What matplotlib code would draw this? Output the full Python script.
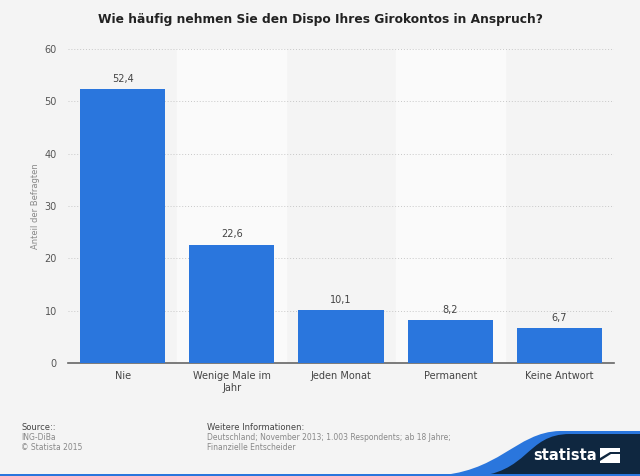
import numpy as np
import matplotlib
matplotlib.use("Agg")
import matplotlib.pyplot as plt
from matplotlib.patches import Polygon, Rectangle, PathPatch
from matplotlib.path import Path

categories = ["Nie", "Wenige Male im\nJahr", "Jeden Monat", "Permanent", "Keine Antwort"]
values = [52.4, 22.6, 10.1, 8.2, 6.7]
value_labels = ["52,4", "22,6", "10,1", "8,2", "6,7"]
yticks = [0, 10, 20, 30, 40, 50, 60]

bg = "#f4f4f4"
bar_col = "#2a76dd"
navy = "#0f2740"

fig = plt.figure(figsize=(6.4, 4.76), dpi=100)
fig.patch.set_facecolor(bg)

ax = fig.add_axes([68/640, 1-363/476, 546/640, 314/476])
ax.set_facecolor(bg)

x = np.arange(len(categories))
# alternating bands
for i in x:
    if i % 2 == 1:
        ax.axvspan(i-0.5, i+0.5, color="#fafafa", zorder=0)

ax.bar(x, values, width=0.78, color=bar_col, zorder=3)
for xi, v, lab in zip(x, values, value_labels):
    ax.text(xi, v+1.0, lab, ha="center", va="bottom", fontsize=7, color="#444444")

ax.set_xlim(-0.5, len(categories)-0.5)
ax.set_ylim(0, 60)
ax.set_yticks(yticks)
ax.yaxis.grid(True, linestyle=(0, (1, 2)), color="#c8c8c8", linewidth=0.7, zorder=1)
ax.set_axisbelow(True)
for s in ["top", "right", "left"]:
    ax.spines[s].set_visible(False)
ax.spines["bottom"].set_color("#666666")
ax.spines["bottom"].set_linewidth(1.2)
ax.tick_params(axis="y", length=0, labelsize=7, labelcolor="#555555", pad=8)
ax.tick_params(axis="x", length=0, labelsize=7, labelcolor="#444444", pad=6)
ax.set_xticks(x)
ax.set_xticklabels(categories, multialignment="center")
ax.set_ylabel("Anteil der Befragten", fontsize=6, color="#888888", labelpad=3)

fig.text(320/640, 1-20/476, "Wie häufig nehmen Sie den Dispo Ihres Girokontos in Anspruch?",
         ha="center", va="center", fontsize=8.8, fontweight="bold", color="#222222")

# footer
fig.text(21/640, 1-427/476, "Source::", fontsize=6, color="#444444", va="center")
fig.text(21/640, 1-437/476, "ING-DiBa", fontsize=5.5, color="#888888", va="center")
fig.text(21/640, 1-447/476, "© Statista 2015", fontsize=5.5, color="#888888", va="center")
fig.text(207/640, 1-427/476, "Weitere Informationen:", fontsize=6, color="#444444", va="center")
fig.text(207/640, 1-438/476, "Deutschland; November 2013; 1.003 Respondents; ab 18 Jahre;",
         fontsize=5.5, color="#888888", va="center")
fig.text(207/640, 1-448/476, "Finanzielle Entscheider", fontsize=5.5, color="#888888", va="center")


def fp(px, py):
    # pixel coords -> figure fraction
    return (px/640, 1-py/476)


def add_patch(p):
    p.set_transform(fig.transFigure)
    p.set_figure(fig)
    fig.patches.append(p)


codes = [Path.MOVETO, Path.CURVE4, Path.CURVE4, Path.CURVE4, Path.LINETO, Path.LINETO, Path.CLOSEPOLY]
# blue wave behind
blue = [fp(430, 476), fp(500, 474), fp(515, 432), fp(560, 431), fp(640, 431),
        fp(640, 476), fp(430, 476)]
add_patch(PathPatch(Path(blue, codes), facecolor=bar_col, edgecolor="none"))
# navy wave
dark = [fp(470, 477), fp(530, 474), fp(525, 434), fp(570, 434), fp(640, 434),
        fp(640, 477), fp(470, 477)]
add_patch(PathPatch(Path(dark, codes), facecolor=navy, edgecolor="none"))
add_patch(Rectangle((0, 0), 1, 2/476, facecolor=bar_col, edgecolor="none"))

fig.text(597/640, 1-455/476, "statista", fontsize=10.5, fontweight="bold", color="white",
         ha="right", va="center")
# logo icon
add_patch(Rectangle(fp(600, 463), 20/640, 15/476, facecolor="white", edgecolor="none"))
add_patch(Polygon([fp(600, 458), fp(610, 452), fp(620, 452), fp(620, 454), fp(611, 454),
                   fp(600, 461)], closed=True, facecolor=navy, edgecolor="none"))

fig.savefig("out.png", dpi=100, facecolor=bg)
